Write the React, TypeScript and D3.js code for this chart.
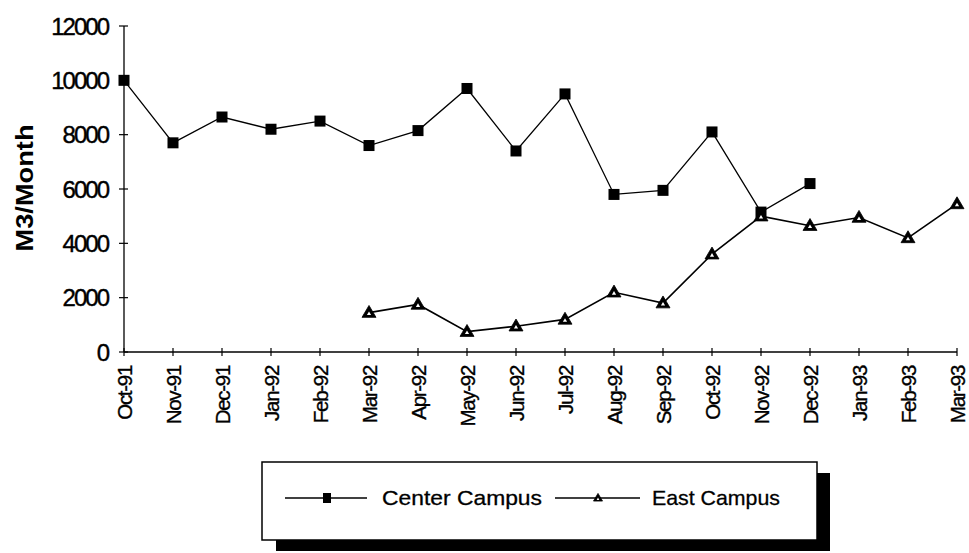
import React from "react";
import * as d3 from "d3";

// Monthly water use, cubic metres per month
const months = [
  "Oct-91", "Nov-91", "Dec-91", "Jan-92", "Feb-92", "Mar-92", "Apr-92", "May-92", "Jun-92",
  "Jul-92", "Aug-92", "Sep-92", "Oct-92", "Nov-92", "Dec-92", "Jan-93", "Feb-93", "Mar-93",
];
const centerCampus: (number | null)[] = [
  10000, 7700, 8650, 8200, 8500, 7600, 8150, 9700, 7400, 9500, 5800, 5950, 8100, 5150, 6200,
  null, null, null,
];
const eastCampus: (number | null)[] = [
  null, null, null, null, null, 1450, 1750, 750, 950, 1200, 2200, 1800, 3600, 5000, 4650,
  4950, 4200, 5450,
];
const yTicks = [0, 2000, 4000, 6000, 8000, 10000, 12000];
const seriesNames = ["Center Campus", "East Campus"];

const W = 969;
const H = 553;
const FONT = "'Liberation Sans', Arial, sans-serif";

const x = d3.scalePoint<string>().domain(months).range([124, 957]);
const y = d3.scaleLinear().domain([0, 12000]).range([352, 26]);

type Pt = { m: string; v: number };
const toPts = (vals: (number | null)[]): Pt[] =>
  vals.map((v, i) => ({ m: months[i], v: v as number })).filter((d) => d.v !== null);

const line = d3
  .line<Pt>()
  .x((d) => x(d.m)!)
  .y((d) => y(d.v));

const Square = ({ cx, cy, s = 10 }: { cx: number; cy: number; s?: number }) => (
  <rect x={cx - s / 2} y={cy - s / 2} width={s} height={s} fill="#000" />
);

const Triangle = ({ cx, cy, s = 13, k = 0.3 }: { cx: number; cy: number; s?: number; k?: number }) => {
  const h = s * 0.85;
  const outer = `M${cx},${cy - h * 0.6} L${cx + s / 2},${cy + h * 0.4} L${cx - s / 2},${cy + h * 0.4} Z`;
  const inner = `M${cx},${cy - h * 0.6 * k + 1} L${cx + (s / 2) * k},${cy + h * 0.4 * k + 1} L${cx - (s / 2) * k},${cy + h * 0.4 * k + 1} Z`;
  return (
    <g>
      <path d={outer} fill="#000" stroke="#000" strokeWidth={0.8} strokeLinejoin="round" />
      {k > 0 && <path d={inner} fill="#fff" />}
    </g>
  );
};

export default function App() {
  const cPts = toPts(centerCampus);
  const ePts = toPts(eastCampus);
  const [x0, x1] = x.range();

  return (
    <svg
      width={W}
      height={H}
      style={{ position: "absolute", left: 0, top: 0, background: "#fff", display: "block" }}
      fontFamily={FONT}
    >
      <rect x={0} y={0} width={W} height={H} fill="#fff" />

      {/* axes */}
      <line x1={x0} x2={x0} y1={y(12000)} y2={y(0)} stroke="#000" strokeWidth={1.3} />
      <line x1={x0} x2={x1} y1={y(0)} y2={y(0)} stroke="#000" strokeWidth={1.3} />
      {yTicks.map((t) => (
        <g key={t}>
          <line x1={x0 - 5} x2={x0 + 4} y1={y(t)} y2={y(t)} stroke="#000" strokeWidth={1.2} />
          <text
            x={108}
            y={y(t) + 8.5}
            textAnchor="end"
            fontSize={24}
            letterSpacing={-2}
            fill="#000"
            stroke="#000"
            strokeWidth={0.4}
          >
            {t}
          </text>
        </g>
      ))}
      {months.map((m) => (
        <g key={m}>
          <line x1={x(m)!} x2={x(m)!} y1={y(0) - 4} y2={y(0) + 4} stroke="#000" strokeWidth={1.2} />
          <text
            transform={`translate(${x(m)! + 8},${366}) rotate(-90)`}
            textAnchor="end"
            fontSize={20.5}
            letterSpacing={-1.3}
            fill="#000"
            stroke="#000"
            strokeWidth={0.35}
          >
            {m}
          </text>
        </g>
      ))}

      <text
        transform={`translate(33,${188}) rotate(-90)`}
        textAnchor="middle"
        fontSize={24}
        fontWeight="bold"
        textLength={127}
        lengthAdjust="spacingAndGlyphs"
        fill="#000"
      >
        M3/Month
      </text>

      {/* series */}
      <path d={line(cPts)!} fill="none" stroke="#000" strokeWidth={1.3} />
      <path d={line(ePts)!} fill="none" stroke="#000" strokeWidth={1.6} />
      {cPts.map((d) => (
        <Square key={"c" + d.m} cx={x(d.m)!} cy={y(d.v)} s={11} />
      ))}
      {ePts.map((d) => (
        <Triangle key={"e" + d.m} cx={x(d.m)!} cy={y(d.v)} s={14} k={0.3} />
      ))}

      {/* legend with drop shadow */}
      <rect x={276} y={473} width={554} height={78} fill="#000" />
      <rect x={262} y={462} width={555} height={78} fill="#fff" stroke="#000" strokeWidth={1.5} />
      <line x1={285} x2={367} y1={498} y2={498} stroke="#000" strokeWidth={1.3} />
      <rect x={323} y={493} width={8} height={10} fill="#000" />
      <text
        x={382}
        y={505}
        fontSize={21}
        textLength={160}
        lengthAdjust="spacingAndGlyphs"
        fill="#000"
        stroke="#000"
        strokeWidth={0.3}
      >
        {seriesNames[0]}
      </text>
      <line x1={555} x2={640} y1={498} y2={498} stroke="#000" strokeWidth={1.3} />
      <Triangle cx={598} cy={498} s={9} k={0.3} />
      <text
        x={652}
        y={505}
        fontSize={21}
        textLength={128}
        lengthAdjust="spacingAndGlyphs"
        fill="#000"
        stroke="#000"
        strokeWidth={0.3}
      >
        {seriesNames[1]}
      </text>
    </svg>
  );
}
